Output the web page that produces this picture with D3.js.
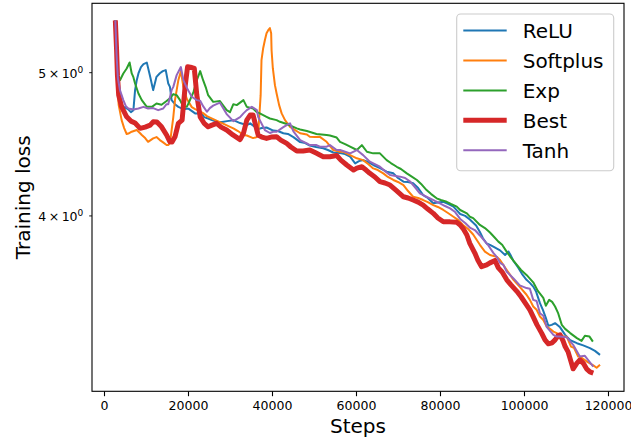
<!DOCTYPE html>
<html>
<head>
<meta charset="utf-8">
<script src="https://cdn.jsdelivr.net/npm/d3@7"></script>
<style>
  html, body { margin: 0; padding: 0; background: #fff; }
  svg { display: block; font-family: "DejaVu Sans", sans-serif; }
</style>
</head>
<body>
<svg id="chart" width="631" height="440"></svg>
<script>
// ---------------- data ----------------
const seriesNames = ["ReLU", "Softplus", "Exp", "Best", "Tanh"];
const xTicks = [0, 20000, 40000, 60000, 80000, 100000, 120000];
const yTicks = [4, 5];
const xLabel = "Steps";
const yLabel = "Training loss";

const reluSteps = [2700,3000,3200,3600,4000,4800,5700,6400,7000,7400,7800,8200,8800,9400,10200,11000,11700,12500,13300,14000,14700,15300,15700,16100,16900,17700,18900,20100,21700,23300,23800,24800,25700,26800,28100,29300,30800,32400,34000,34800,35700,36700,37600,38700,40300,41400,42700,43800,45100,46700,47900,49000,50500,52200,53300,54600,56200,57400,58600,59800,60700,61700,62900,64100,65700,67300,68900,70000,71300,72400,73600,74800,76000,77100,78400,79500,80800,81900,83200,84800,86000,87100,88600,89500,90200,91100,91900,92700,94300,95500,96300,96900,97500,98600,99500,100600,101400,102200,102900,103800,104500,105200,105800,106600,107400,108100,108600,109800,111000,112600,114100,115700,116900,118100];
const reluLoss  = [5.421,5.134,4.938,4.809,4.757,4.735,4.720,4.698,4.713,4.862,4.938,4.990,5.040,5.063,5.075,4.964,4.862,4.964,4.992,5.008,5.016,4.913,4.887,4.787,4.757,4.737,4.720,4.724,4.689,4.689,4.662,4.652,4.640,4.629,4.626,4.633,4.640,4.619,4.604,4.617,4.597,4.576,4.583,4.587,4.565,4.562,4.546,4.541,4.519,4.484,4.477,4.460,4.450,4.441,4.429,4.412,4.408,4.401,4.383,4.338,4.353,4.360,4.347,4.327,4.306,4.282,4.271,4.240,4.216,4.214,4.205,4.174,4.129,4.110,4.076,4.081,4.086,4.072,4.055,4.009,3.997,3.975,3.938,3.898,3.862,3.829,3.821,3.810,3.788,3.761,3.781,3.756,3.726,3.689,3.652,3.618,3.601,3.580,3.551,3.489,3.453,3.410,3.368,3.373,3.382,3.370,3.360,3.321,3.293,3.278,3.267,3.253,3.239,3.219];

const softplusSteps = [2700,3000,3300,3500,4200,4800,5400,5800,6600,7800,8600,9000,9800,10500,11700,12500,13300,14000,14900,15300,15700,16100,16500,16900,17700,18300,18900,19700,20900,21700,22500,23600,24500,25500,26800,28100,30000,30800,31900,33200,34000,35500,36400,36700,37000,37300,37500,37900,38300,38700,39100,39500,39800,39900,40200,40700,41100,41700,42300,43100,44300,45500,46700,48300,49000,50200,51400,53000,54600,56200,57000,58600,60200,61700,62900,64100,65200,66500,67600,68900,70000,71300,72400,73600,74800,76000,77100,78400,79500,80800,81900,83200,84300,85500,86700,87900,89500,90700,91900,93500,94300,95900,97500,99000,100600,101400,102200,103000,103800,104600,105400,106200,107000,107800,108600,109400,110200,111200,111900,112900,113300,114900,116500,117300,118100];
const softplusLoss  = [5.421,5.094,4.840,4.750,4.640,4.583,4.541,4.544,4.557,4.569,4.546,4.534,4.512,4.486,4.510,4.519,4.498,4.484,4.464,4.464,4.475,4.569,4.662,4.787,4.938,5.008,4.887,4.798,4.735,4.720,4.709,4.691,4.669,4.655,4.636,4.619,4.592,4.581,4.562,4.534,4.530,4.512,4.519,4.534,4.677,4.824,5.094,5.190,5.255,5.313,5.338,5.355,5.313,5.174,5.031,4.900,4.837,4.750,4.689,4.640,4.592,4.569,4.546,4.537,4.521,4.519,4.521,4.486,4.429,4.417,4.417,4.394,4.372,4.360,4.333,4.304,4.293,4.271,4.247,4.227,4.214,4.194,4.155,4.118,4.110,4.097,4.084,4.065,4.053,4.034,4.015,3.992,3.972,3.941,3.916,3.883,3.821,3.781,3.761,3.750,3.732,3.674,3.618,3.579,3.535,3.507,3.471,3.453,3.417,3.399,3.364,3.352,3.338,3.330,3.321,3.312,3.311,3.261,3.254,3.211,3.211,3.187,3.167,3.155,3.170];

const expSteps = [2700,3000,3300,3800,4600,5400,6100,6600,7000,7400,8200,9000,10200,11400,12500,13700,14900,15700,16500,17300,18100,18900,19700,20100,21300,22100,22900,23600,24300,24800,26000,27600,29200,30000,30800,31600,33200,34000,35500,36400,37100,38700,39500,41100,41900,43500,45900,46700,48300,50600,53000,53800,55400,56200,57400,58600,60200,61400,62600,64100,65700,67300,68300,69700,70700,72100,73100,74500,75500,76800,77900,79200,80200,81600,82600,84000,84800,86400,87100,87900,89500,90700,91900,92900,93900,94800,95900,96700,98300,99300,100600,102200,103300,104600,105200,106000,106700,107400,108100,109000,109800,111000,112600,113700,114500,115600,116400];
const expLoss  = [5.421,5.134,4.977,4.938,4.990,5.029,5.076,4.990,4.961,4.913,4.837,4.787,4.737,4.737,4.762,4.753,4.780,4.800,4.832,4.824,4.787,4.737,4.737,4.762,4.847,4.938,5.008,4.938,4.877,4.824,4.774,4.780,4.713,4.698,4.757,4.750,4.787,4.737,4.725,4.698,4.689,4.664,4.652,4.640,4.628,4.612,4.581,4.573,4.562,4.541,4.534,4.530,4.516,4.486,4.470,4.452,4.429,4.463,4.417,4.406,4.406,4.360,4.340,4.315,4.300,4.271,4.253,4.227,4.201,4.161,4.135,4.108,4.097,4.086,4.072,4.055,4.034,4.013,3.992,3.983,3.941,3.922,3.895,3.868,3.840,3.821,3.779,3.752,3.703,3.674,3.646,3.604,3.556,3.518,3.475,3.507,3.496,3.471,3.437,3.373,3.352,3.330,3.304,3.290,3.316,3.312,3.286];

const bestSteps = [2700,3000,3200,3500,4200,5400,6400,7400,8600,9800,11000,11700,12600,13700,14900,15700,16200,16900,17700,18600,19300,19900,20900,21500,22100,22900,23800,24800,25700,26800,27900,29200,30700,32400,33200,34000,34800,35500,36400,36700,37600,38700,39800,41100,42100,43500,44500,45900,47400,49000,50500,52200,53800,55400,56400,57800,59400,60200,61400,62400,63300,64500,65700,66900,68100,69500,71300,72400,73600,74800,76000,77100,78400,79500,80800,82400,84000,84800,85500,86400,87100,88300,89000,89900,91100,91900,93100,93900,94800,95900,96900,98300,99300,100600,101400,102200,103100,104200,105000,105800,106700,107400,108100,108600,109300,109800,110500,111000,111700,112600,113300,114100,114900,115700,116500];
const bestLoss  = [5.421,5.174,4.977,4.824,4.737,4.664,4.633,4.619,4.581,4.590,4.604,4.628,4.626,4.592,4.534,4.486,4.484,4.521,4.617,4.640,4.887,5.042,5.036,5.029,4.824,4.664,4.619,4.592,4.604,4.617,4.590,4.569,4.534,4.502,4.546,4.640,4.677,4.677,4.569,4.534,4.519,4.510,4.519,4.521,4.498,4.475,4.450,4.422,4.422,4.429,4.408,4.383,4.383,4.391,4.360,4.327,4.293,4.306,4.315,4.293,4.271,4.247,4.216,4.207,4.194,4.161,4.118,4.110,4.097,4.084,4.065,4.040,4.013,3.984,3.961,3.960,3.957,3.941,3.919,3.880,3.830,3.772,3.732,3.693,3.703,3.715,3.729,3.686,3.663,3.618,3.590,3.554,3.524,3.480,3.453,3.415,3.373,3.330,3.295,3.275,3.280,3.295,3.316,3.321,3.290,3.261,3.234,3.199,3.150,3.178,3.194,3.178,3.150,3.135,3.129];

const tanhSteps = [2700,3000,3300,3800,4600,5200,5800,7000,8200,9400,10500,11700,12900,14100,14900,15300,16100,16500,17300,18300,18900,19700,20900,22100,22900,23600,24500,25200,26000,27600,29200,30800,32400,33200,34000,35200,36400,36700,37900,38300,39500,40300,41100,42700,43900,44300,45100,46700,48300,49000,50600,51400,53000,53800,55400,56200,58600,60200,61700,63300,65700,66900,68100,70500,71700,72900,74000,75200,76400,77600,78800,80000,81200,82400,83600,84800,86000,87100,88300,89500,91400,92700,93500,94300,95100,95900,97500,99000,100600,101400,102200,103000,103800,104600,105400,105800,107000,107800,108600,110200,111700,113300,114500,115700,116500];
const tanhLoss  = [5.421,5.134,4.954,4.862,4.787,4.742,4.725,4.717,4.725,4.737,4.725,4.728,4.713,4.725,4.757,4.757,4.862,4.887,4.977,5.040,4.938,4.881,4.812,4.787,4.783,4.742,4.701,4.728,4.746,4.768,4.684,4.633,4.662,4.689,4.713,4.737,4.713,4.664,4.592,4.569,4.548,4.557,4.557,4.590,4.612,4.617,4.559,4.498,4.475,4.463,4.463,4.452,4.452,4.463,4.429,4.429,4.406,4.429,4.394,4.349,4.315,4.286,4.260,4.249,4.240,4.216,4.181,4.140,4.123,4.108,4.091,4.076,4.059,4.044,4.021,3.978,3.953,3.925,3.910,3.877,3.821,3.773,3.750,3.715,3.703,3.664,3.626,3.587,3.572,3.568,3.507,3.501,3.435,3.421,3.363,3.352,3.321,3.312,3.312,3.308,3.270,3.211,3.214,3.182,3.161];

const seriesSteps = [reluSteps, softplusSteps, expSteps, bestSteps, tanhSteps];
const seriesLoss = [reluLoss, softplusLoss, expLoss, bestLoss, tanhLoss];

// ---------------- styles ----------------
const colors = ["#1f77b4", "#ff7f0e", "#2ca02c", "#d62728", "#9467bd"];
const widths = [2, 2, 2, 5, 2];
const tickFont = 12.5;
const labelFont = 20;
const legendFont = 20;

// ---------------- layout ----------------
const plot = { left: 92, right: 624, top: 3.3, bottom: 391.3 };
const svg = d3.select("#chart");
svg.append("rect").attr("width", 631).attr("height", 440).attr("fill", "#fff");

const x = d3.scaleLinear().domain([-2857, 123812]).range([plot.left, plot.right]);
const y = d3.scaleLog().domain([3.0414, 5.5663]).range([plot.bottom, plot.top]);

svg.append("defs").append("clipPath").attr("id", "clip")
  .append("rect").attr("x", plot.left).attr("y", plot.top)
  .attr("width", plot.right - plot.left).attr("height", plot.bottom - plot.top);

// lines
const line = d3.line().x(d => x(d[0])).y(d => y(d[1]));
const gLines = svg.append("g").attr("clip-path", "url(#clip)");
seriesNames.forEach((name, i) => {
  const pts = seriesSteps[i].map((s, j) => [s, seriesLoss[i][j]]);
  gLines.append("path")
    .datum(pts)
    .attr("d", line)
    .attr("fill", "none")
    .attr("stroke", colors[i])
    .attr("stroke-width", widths[i])
    .attr("stroke-linejoin", "round")
    .attr("stroke-linecap", "butt");
});

// x axis
const xAxis = d3.axisBottom(x).tickValues(xTicks).tickFormat(d3.format("d"))
  .tickSize(4.9).tickPadding(5.2);
const gx = svg.append("g").attr("transform", `translate(0,${plot.bottom})`).call(xAxis);
gx.select(".domain").remove();
gx.selectAll("line").attr("stroke", "#000").attr("stroke-width", 1.1);
gx.selectAll("text").attr("font-size", tickFont).attr("fill", "#000")
  .attr("font-family", "DejaVu Sans");

// y axis
const yAxis = d3.axisLeft(y).tickValues(yTicks).tickSize(2.8).tickFormat(() => "");
const gy = svg.append("g").attr("transform", `translate(${plot.left},0)`).call(yAxis);
gy.select(".domain").remove();
gy.selectAll("line").attr("stroke", "#000").attr("stroke-width", 0.9);
gy.selectAll(".tick").each(function(d) {
  const t = d3.select(this).select("text");
  t.attr("x", -8.7).attr("dy", null).attr("y", 5)
    .attr("text-anchor", "end").attr("font-size", tickFont).attr("fill", "#000")
    .attr("font-family", "DejaVu Sans");
  t.text(null);
  t.append("tspan").text(d + "\u2009\u00d7\u200910");
  t.append("tspan").attr("font-size", 9).attr("dy", -5).text("0");
});

// spines
svg.append("rect")
  .attr("x", plot.left).attr("y", plot.top)
  .attr("width", plot.right - plot.left).attr("height", plot.bottom - plot.top)
  .attr("fill", "none").attr("stroke", "#000").attr("stroke-width", 1.1);

// axis labels
svg.append("text")
  .attr("x", (plot.left + plot.right) / 2).attr("y", 433)
  .attr("text-anchor", "middle").attr("font-size", labelFont).attr("fill", "#000")
  .text(xLabel);
svg.append("text")
  .attr("transform", `translate(29.5,${(plot.top + plot.bottom) / 2}) rotate(-90)`)
  .attr("text-anchor", "middle").attr("font-size", labelFont).attr("fill", "#000")
  .text(yLabel);

// legend
const leg = svg.append("g");
leg.append("rect")
  .attr("x", 456.7).attr("y", 14).attr("width", 157).attr("height", 156.7)
  .attr("rx", 4).attr("ry", 4)
  .attr("fill", "#fff").attr("fill-opacity", 0.8)
  .attr("stroke", "#cccccc").attr("stroke-width", 1.1);
seriesNames.forEach((name, i) => {
  const cy = 30.5 + i * 29.95;
  leg.append("line")
    .attr("x1", 463.3).attr("x2", 506.7).attr("y1", cy).attr("y2", cy)
    .attr("stroke", colors[i]).attr("stroke-width", widths[i]);
  leg.append("text")
    .attr("x", 522.7).attr("y", cy + 7.2)
    .attr("font-size", legendFont).attr("fill", "#000")
    .text(name);
});
</script>
</body>
</html>
